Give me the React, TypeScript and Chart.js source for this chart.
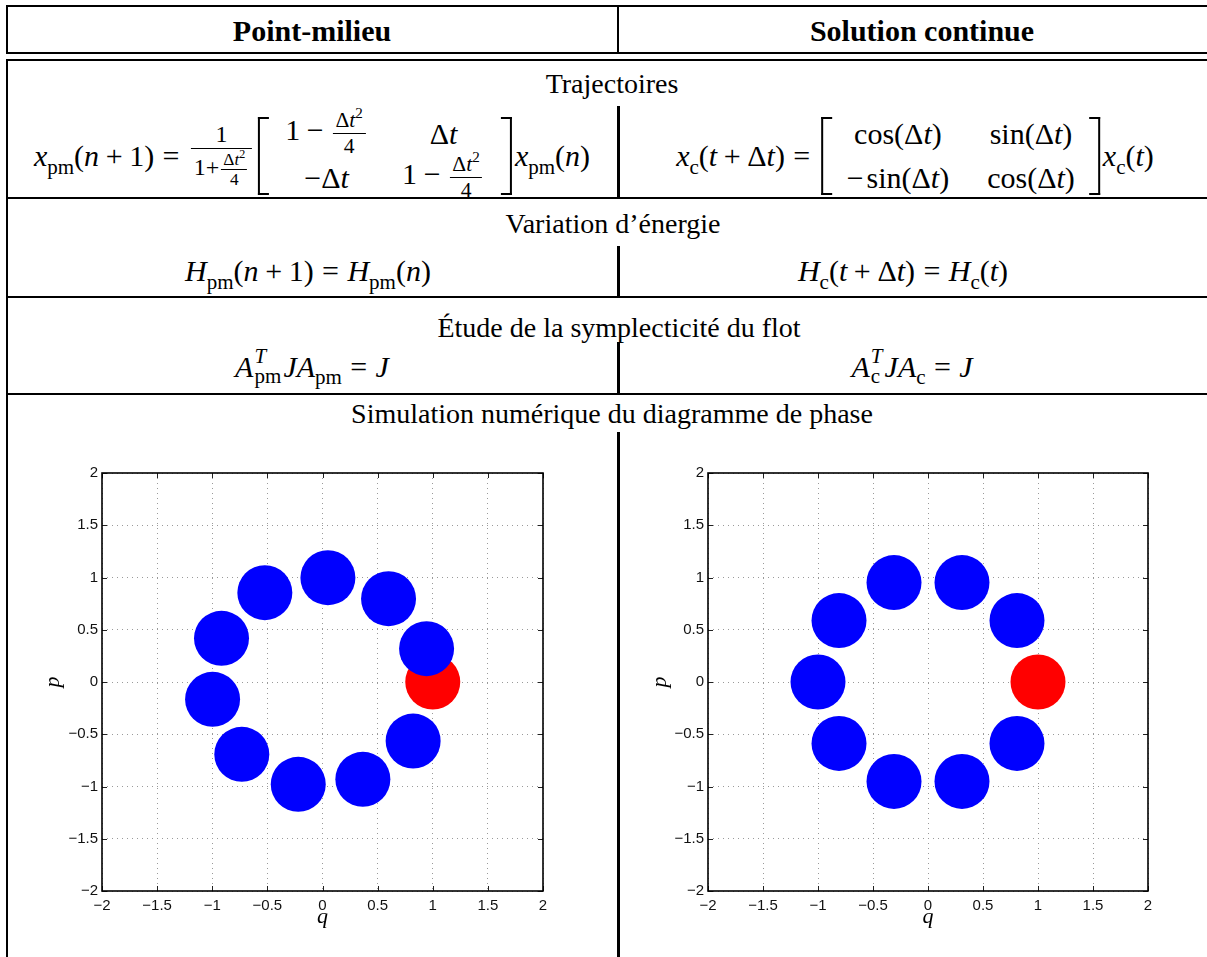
import React, { useEffect, useRef } from 'react';
import { Chart, registerables } from 'chart.js';

Chart.register(...registerables);

// ---------- data ----------
const axisTicks = [-2, -1.5, -1, -0.5, 0, 0.5, 1, 1.5, 2];

// Point-milieu: successive iterates (blue)
const pmQ = [0.822, 0.366, -0.22, -0.732, -0.997, -0.916, -0.523, 0.049, 0.599, 0.944];
const pmP = [-0.565, -0.931, -0.979, -0.692, -0.166, 0.418, 0.855, 0.998, 0.797, 0.319];

// Solution continue: successive states (blue)
const contQ = [0.809, 0.309, -0.309, -0.809, -1.0, -0.809, -0.309, 0.309, 0.809];
const contP = [-0.588, -0.951, -0.951, -0.588, 0.0, 0.588, 0.951, 0.951, 0.588];

// initial condition (red)
const startQ = [1];
const startP = [0];

const fmt = (v: number) => (v < 0 ? '\u2212' + String(-v) : String(v));

const boxPlugin = {
  id: 'matlabBox',
  afterDraw(chart: any) {
    const { ctx, chartArea } = chart;
    const { left, right, top, bottom } = chartArea;
    const xs = chart.scales.x;
    const ys = chart.scales.y;
    const L = 5;
    ctx.save();
    ctx.strokeStyle = '#222';
    ctx.lineWidth = 1;
    ctx.beginPath();
    xs.ticks.forEach((t: any) => {
      const px = Math.round(xs.getPixelForValue(t.value)) + 0.5;
      ctx.moveTo(px, bottom);
      ctx.lineTo(px, bottom - L);
      ctx.moveTo(px, top);
      ctx.lineTo(px, top + L);
    });
    ys.ticks.forEach((t: any) => {
      const py = Math.round(ys.getPixelForValue(t.value)) + 0.5;
      ctx.moveTo(left, py);
      ctx.lineTo(left + L, py);
      ctx.moveTo(right, py);
      ctx.lineTo(right - L, py);
    });
    ctx.stroke();
    ctx.strokeStyle = '#000';
    ctx.lineWidth = 1.6;
    ctx.strokeRect(left, top, right - left, bottom - top);
    ctx.restore();
  },
};

function makeConfig(q: number[], p: number[], pTitlePad: number, rightPad: number): any {
  const tickFont = { family: '"Liberation Sans", Arial, sans-serif', size: 15 };
  const titleFont = { family: '"Liberation Serif", serif', size: 22, style: 'italic' };
  return {
    type: 'scatter',
    data: {
      datasets: [
        {
          data: q.map((v, i) => ({ x: v, y: p[i] })),
          backgroundColor: '#0000ff',
          borderColor: '#0000ff',
          borderWidth: 0,
          pointRadius: 27.5,
          pointHoverRadius: 27.5,
        },
        {
          data: startQ.map((v, i) => ({ x: v, y: startP[i] })),
          backgroundColor: '#ff0000',
          borderColor: '#ff0000',
          borderWidth: 0,
          pointRadius: 27.5,
          pointHoverRadius: 27.5,
        },
      ],
    },
    options: {
      animation: false,
      responsive: false,
      events: [],
      layout: { autoPadding: false, padding: { left: 0, right: rightPad, top: 18, bottom: 0 } },
      plugins: { legend: { display: false }, tooltip: { enabled: false } },
      scales: {
        x: {
          type: 'linear',
          min: -2,
          max: 2,
          afterBuildTicks: (s: any) => {
            s.ticks = axisTicks.map((v) => ({ value: v }));
          },
          afterFit: (s: any) => {
            s.height = 44;
          },
          ticks: { font: tickFont, color: '#111', padding: 6, maxRotation: 0, autoSkip: false, callback: (v: any) => fmt(Number(v)) },
          grid: { color: '#9a9a9a', lineWidth: 1, drawTicks: false },
          border: { display: false, dash: [1, 4] },
          title: { display: true, text: 'q', font: titleFont, color: '#000', padding: { top: 0, bottom: 4.8 } },
        },
        y: {
          type: 'linear',
          min: -2,
          max: 2,
          afterBuildTicks: (s: any) => {
            s.ticks = axisTicks.map((v) => ({ value: v }));
          },
          afterFit: (s: any) => {
            s.width = 82;
          },
          ticks: { font: tickFont, color: '#111', padding: 4, autoSkip: false, callback: (v: any) => fmt(Number(v)) },
          grid: { color: '#9a9a9a', lineWidth: 1, drawTicks: false },
          border: { display: false, dash: [1, 4] },
          title: { display: true, text: 'p', font: titleFont, color: '#000', padding: { top: pTitlePad, bottom: 0 } },
        },
      },
    },
    plugins: [boxPlugin],
  };
}

// ---------- math helpers ----------
const I = ({ children }: any) => <span style={{ fontStyle: 'italic' }}>{children}</span>;
const Sub = ({ children }: any) => (
  <span style={{ fontSize: '0.7em', verticalAlign: '-0.36em', lineHeight: 0 }}>{children}</span>
);
const Sup = ({ children }: any) => (
  <span style={{ fontSize: '0.7em', verticalAlign: '0.6em', lineHeight: 0 }}>{children}</span>
);
const Bin = ({ c }: any) => <span style={{ margin: '0 0.22em' }}>{c}</span>;
const Rel = ({ c }: any) => <span style={{ margin: '0 0.28em' }}>{c}</span>;
const SupSub = ({ sup, sub }: any) => (
  <span
    style={{
      display: 'inline-flex',
      flexDirection: 'column',
      fontSize: '0.7em',
      lineHeight: 0.95,
      verticalAlign: '0.65em',
      marginLeft: '0.05em',
      marginRight: '0.1em',
    }}
  >
    <span style={{ fontStyle: 'italic' }}>{sup}</span>
    <span>{sub}</span>
  </span>
);
const Frac = ({ n, d, size }: any) => (
  <span
    style={{
      display: 'inline-flex',
      flexDirection: 'column',
      alignItems: 'center',
      fontSize: size,
      lineHeight: 1,
      verticalAlign: 'middle',
      margin: '0 0.12em',
    }}
  >
    <span style={{ padding: '0 0.12em 0.06em' }}>{n}</span>
    <span style={{ alignSelf: 'stretch', borderTop: '1.5px solid #000' }} />
    <span style={{ padding: '0.08em 0.12em 0' }}>{d}</span>
  </span>
);
const Bracket = ({ side }: any) => (
  <span
    style={{
      width: 9,
      borderTop: '2px solid #000',
      borderBottom: '2px solid #000',
      borderLeft: side === 'l' ? '2px solid #000' : 'none',
      borderRight: side === 'r' ? '2px solid #000' : 'none',
    }}
  />
);
const Matrix = ({ cells, gap, pad }: any) => (
  <span style={{ display: 'inline-flex', alignItems: 'stretch', margin: '0 3px' }}>
    <Bracket side="l" />
    <span
      style={{
        display: 'inline-grid',
        gridTemplateColumns: 'auto auto',
        columnGap: gap,
        rowGap: 14,
        padding: `2px ${pad}px`,
        alignItems: 'center',
        justifyItems: 'center',
      }}
    >
      {cells.map((c: any, i: number) => (
        <span key={i} style={{ height: 30, display: 'flex', alignItems: 'center', whiteSpace: 'nowrap' }}>
          {c}
        </span>
      ))}
    </span>
    <Bracket side="r" />
  </span>
);

const DT = () => (
  <span>
    Δ<I>t</I>
  </span>
);
const DT2 = () => (
  <span>
    Δ<I>t</I>
    <Sup>2</Sup>
  </span>
);

const Txt = ({ x, y, size, bold, children }: any) => (
  <div
    style={{
      position: 'absolute',
      left: x,
      top: y,
      transform: 'translate(-50%,-50%)',
      fontSize: size,
      fontWeight: bold ? 'bold' : 'normal',
      lineHeight: 1,
      whiteSpace: 'nowrap',
    }}
  >
    {children}
  </div>
);

const Formula = ({ x, y, size, children }: any) => (
  <div
    style={{
      position: 'absolute',
      left: x,
      top: y,
      transform: 'translate(-50%,-50%)',
      fontSize: size,
      lineHeight: 1,
      whiteSpace: 'nowrap',
      display: 'flex',
      alignItems: 'center',
    }}
  >
    {children}
  </div>
);

const Ln = ({ l, t, w, h }: any) => (
  <div style={{ position: 'absolute', left: l, top: t, width: w, height: h, background: '#000' }} />
);

const M = 30; // math size
const T = 28; // text size

export default function App() {
  const leftRef = useRef<HTMLCanvasElement>(null);
  const rightRef = useRef<HTMLCanvasElement>(null);

  useEffect(() => {
    const c1 = new Chart(leftRef.current as HTMLCanvasElement, makeConfig(pmQ, pmP, 19.8, 27));
    const c2 = new Chart(rightRef.current as HTMLCanvasElement, makeConfig(contQ, contP, 20.8, 28));
    return () => {
      c1.destroy();
      c2.destroy();
    };
  }, []);

  const oneMinus = (
    <span>
      1<Bin c="−" />
      <Frac size="0.72em" n={<DT2 />} d="4" />
    </span>
  );

  return (
    <div
      style={{
        position: 'absolute',
        left: 0,
        top: 0,
        width: 1207,
        height: 957,
        overflow: 'hidden',
        background: '#fff',
        color: '#000',
        fontFamily: '"Liberation Serif", "Times New Roman", serif',
      }}
    >
      {/* header box */}
      <Ln l={6} t={5} w={1201} h={2} />
      <Ln l={6} t={5} w={2} h={49} />
      <Ln l={617} t={5} w={2} h={49} />
      <Ln l={6} t={52} w={1201} h={2} />
      {/* body */}
      <Ln l={6} t={59} w={1201} h={2} />
      <Ln l={6} t={59} w={2} h={898} />
      <Ln l={617} t={106} w={3} h={92} />
      <Ln l={6} t={197} w={1201} h={2} />
      <Ln l={617} t={246} w={3} h={51} />
      <Ln l={6} t={296} w={1201} h={2} />
      <Ln l={617} t={342} w={3} h={52} />
      <Ln l={6} t={393} w={1201} h={2} />
      <Ln l={617} t={432} w={3} h={525} />

      <Txt x={312} y={31} size={30} bold>
        Point-milieu
      </Txt>
      <Txt x={922} y={31} size={30} bold>
        Solution continue
      </Txt>

      <Txt x={612} y={84} size={T}>
        Trajectoires
      </Txt>

      <Formula x={312} y={155.5} size={M}>
        <span>
          <I>x</I>
          <Sub>pm</Sub>(<I>n</I>
          <Bin c="+" />
          1)
          <Rel c="=" />
        </span>
        <Frac
          size="0.8em"
          n="1"
          d={
            <span>
              1+
              <Frac size="0.72em" n={<DT2 />} d="4" />
            </span>
          }
        />
        <Matrix
          gap={34}
          pad={16}
          cells={[
            oneMinus,
            <DT />,
            <span>
              −<DT />
            </span>,
            oneMinus,
          ]}
        />
        <span>
          <I>x</I>
          <Sub>pm</Sub>(<I>n</I>)
        </span>
      </Formula>

      <Formula x={915} y={155.5} size={M}>
        <span>
          <I>x</I>
          <Sub>c</Sub>(<I>t</I>
          <Bin c="+" />
          <DT />)
          <Rel c="=" />
        </span>
        <Matrix
          gap={38}
          pad={14}
          cells={[
            <span>
              cos(<DT />)
            </span>,
            <span>
              sin(<DT />)
            </span>,
            <span>
              −<span style={{ marginLeft: '0.1em' }}>sin(</span>
              <DT />)
            </span>,
            <span>
              cos(<DT />)
            </span>,
          ]}
        />
        <span>
          <I>x</I>
          <Sub>c</Sub>(<I>t</I>)
        </span>
      </Formula>

      <Txt x={613} y={224} size={T}>
        Variation d’énergie
      </Txt>
      <Formula x={308} y={271} size={M}>
        <span>
          <I>H</I>
          <Sub>pm</Sub>(<I>n</I>
          <Bin c="+" />
          1)
          <Rel c="=" />
          <I>H</I>
          <Sub>pm</Sub>(<I>n</I>)
        </span>
      </Formula>
      <Formula x={903} y={271} size={M}>
        <span>
          <I>H</I>
          <Sub>c</Sub>(<I>t</I>
          <Bin c="+" />
          <DT />)
          <Rel c="=" />
          <I>H</I>
          <Sub>c</Sub>(<I>t</I>)
        </span>
      </Formula>

      <Txt x={619} y={328} size={T}>
        Étude de la symplecticité du flot
      </Txt>
      <Formula x={312} y={367} size={M}>
        <span>
          <I>A</I>
          <SupSub sup="T" sub="pm" />
          <I>JA</I>
          <Sub>pm</Sub>
          <Rel c="=" />
          <I>J</I>
        </span>
      </Formula>
      <Formula x={912} y={367} size={M}>
        <span>
          <I>A</I>
          <SupSub sup="T" sub="c" />
          <I>JA</I>
          <Sub>c</Sub>
          <Rel c="=" />
          <I>J</I>
        </span>
      </Formula>

      <Txt x={612} y={414} size={T}>
        Simulation numérique du diagramme de phase
      </Txt>

      <canvas
        ref={leftRef}
        width={550}
        height={480}
        style={{ position: 'absolute', left: 20, top: 455, width: 550, height: 480 }}
      />
      <canvas
        ref={rightRef}
        width={550}
        height={480}
        style={{ position: 'absolute', left: 626, top: 455, width: 550, height: 480 }}
      />
    </div>
  );
}
